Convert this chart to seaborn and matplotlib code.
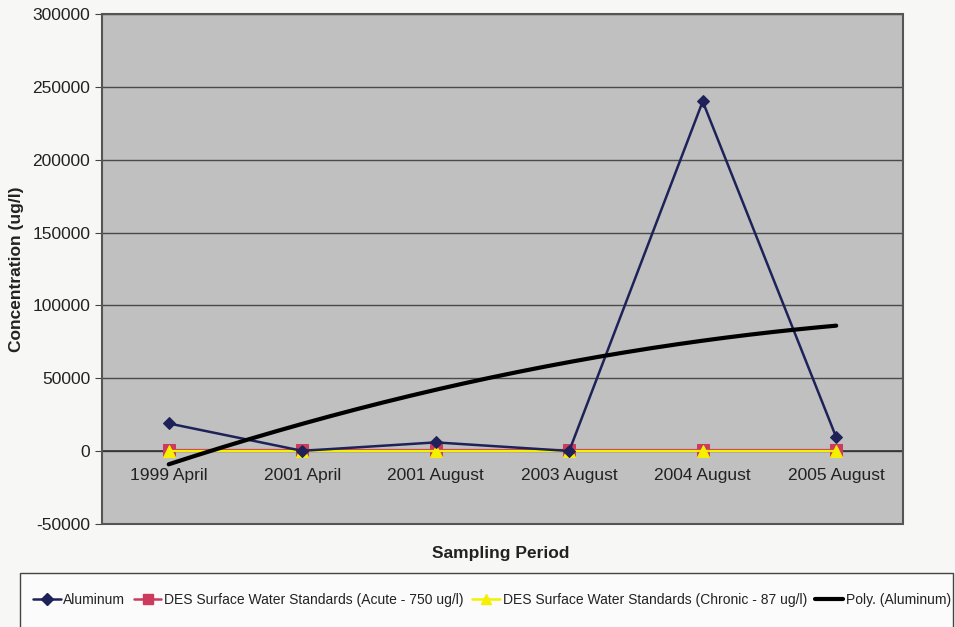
import numpy as np
import pandas as pd
import matplotlib
matplotlib.use("Agg")
import matplotlib.pyplot as plt
from matplotlib.patches import Rectangle
from matplotlib.lines import Line2D
import seaborn as sns

periods = ["1999 April", "2001 April", "2001 August", "2003 August", "2004 August", "2005 August"]
aluminum = [19000, 200, 6000, 100, 240000, 9500]
acute = [750, 750, 750, 750, 750, 750]
chronic = [87, 87, 87, 87, 87, 87]

sns.set_style("white")
plt.rcParams["font.family"] = ["Liberation Sans", "DejaVu Sans"]

fig = plt.figure(figsize=(9.55, 6.27), dpi=100)
fig.patch.set_facecolor("#f7f7f5")
ax = fig.add_axes([0.1068, 0.1643, 0.8387, 0.8134])
ax.set_facecolor("#c0c0c0")

x = np.arange(len(periods))
df = pd.DataFrame({"x": x, "Aluminum": aluminum, "Acute": acute, "Chronic": chronic})

navy = "#1e2258"
red = "#cc3a5e"
yellow = "#f4f000"

sns.lineplot(data=df, x="x", y="Acute", ax=ax, color=red, lw=1.6, marker="s",
             markersize=8, markeredgecolor=red, zorder=3)
sns.lineplot(data=df, x="x", y="Chronic", ax=ax, color=yellow, lw=1.6, marker="^",
             markersize=8, markeredgecolor=yellow, zorder=4)
sns.lineplot(data=df, x="x", y="Aluminum", ax=ax, color=navy, lw=1.8, marker="D",
             markersize=6.5, markeredgecolor=navy, zorder=5)

# second-order polynomial trendline of the aluminum series
coef = np.polyfit(x + 1, aluminum, 2)
xs = np.linspace(0, len(periods) - 1, 200)
ax.plot(xs, np.polyval(coef, xs + 1), color="black", lw=3, zorder=6)

ax.set_xlim(-0.5, len(periods) - 0.5)
ax.set_ylim(-50000, 300000)
ax.set_yticks(np.arange(-50000, 300001, 50000))
ax.set_yticklabels([f"{v:d}" for v in range(-50000, 300001, 50000)])
ax.yaxis.grid(True, color="#4a4a4a", lw=1)
ax.set_axisbelow(True)

# category axis crossing at zero
for s in ["top", "left", "right"]:
    ax.spines[s].set_visible(False)
ax.spines["bottom"].set_position(("data", 0))
ax.spines["bottom"].set_color("#333333")
ax.spines["bottom"].set_linewidth(1.2)
ax.add_patch(Rectangle((0, 0), 1, 1, transform=ax.transAxes, fill=False,
                       edgecolor="#555555", lw=1.5, zorder=10, clip_on=False))

ax.set_xticks(x)
ax.set_xticklabels(periods, fontsize=12.5, color="#222222")
ax.set_xticks(np.arange(0.5, len(periods) - 0.5, 1), minor=True)
ax.tick_params(axis="x", which="major", length=0, pad=12)
ax.tick_params(axis="x", which="minor", length=4, direction="out", color="#333333")
ax.tick_params(axis="y", length=5, direction="out", color="#444444", labelsize=12.5,
               labelcolor="#222222", left=True)

ax.set_xlabel("")
ax.set_ylabel("Concentration (ug/l)", fontsize=12.5, fontweight="bold", color="#222222", labelpad=6)
fig.text(0.5245, 0.118, "Sampling Period", ha="center", va="center",
         fontsize=12.5, fontweight="bold", color="#222222")

# legend box along the bottom
fig.patches.append(Rectangle((20 / 955, -0.01), 933 / 955, 54 / 627 + 0.01,
                             transform=fig.transFigure, facecolor="#fbfbfb",
                             edgecolor="#444444", lw=1))
handles = [
    Line2D([], [], color=navy, lw=1.8, marker="D", markersize=6, markeredgecolor=navy),
    Line2D([], [], color=red, lw=1.8, marker="s", markersize=7, markeredgecolor=red),
    Line2D([], [], color=yellow, lw=1.8, marker="^", markersize=7, markeredgecolor=yellow),
    Line2D([], [], color="black", lw=3),
]
labels = ["Aluminum", "DES Surface Water Standards (Acute - 750 ug/l)",
          "DES Surface Water Standards (Chronic - 87 ug/l)", "Poly. (Aluminum)"]
fig.legend(handles, labels, loc="center", bbox_to_anchor=(0.515, 0.043), ncol=4,
           frameon=False, fontsize=10, handlelength=2.0, handletextpad=0.2,
           columnspacing=0.6, labelcolor="#222222")

fig.savefig("out.png", dpi=100, facecolor=fig.get_facecolor())
